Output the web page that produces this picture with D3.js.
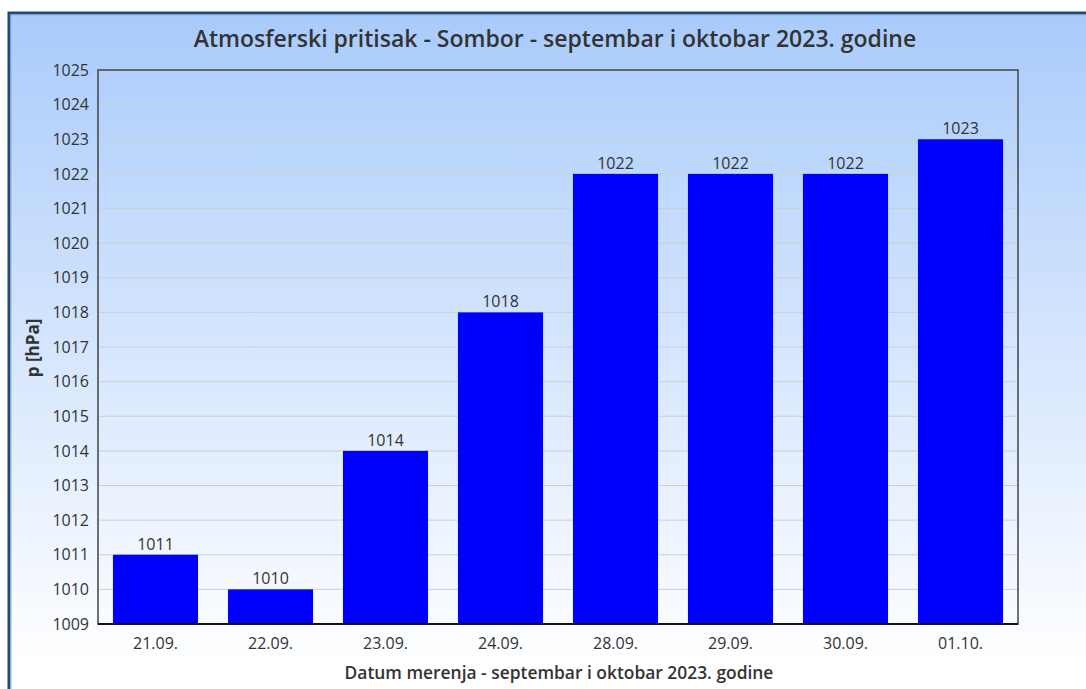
<!DOCTYPE html>
<html>
<head>
<meta charset="utf-8">
<script src="https://cdn.jsdelivr.net/npm/d3@7"></script>
<style>
  body { margin: 0; background: #fff; }
  text { font-family: "Open Sans", sans-serif; fill: #333; }
</style>
</head>
<body>
<div id="chart"></div>
<script>
var width = 1086, height = 689;

var dates = ["21.09.", "22.09.", "23.09.", "24.09.", "28.09.", "29.09.", "30.09.", "01.10."];
var pressure = [1011, 1010, 1014, 1018, 1022, 1022, 1022, 1023];
var yTicks = [1009, 1010, 1011, 1012, 1013, 1014, 1015, 1016, 1017, 1018, 1019, 1020, 1021, 1022, 1023, 1024, 1025];

var margin = {top: 70, right: 68, bottom: 65, left: 98};

var svg = d3.select("#chart")
  .append("svg")
  .attr("width", width)
  .attr("height", height);

var defs = svg.append("defs");
var grad = defs.append("linearGradient")
  .attr("id", "bg")
  .attr("x1", 0).attr("y1", 0).attr("x2", 0).attr("y2", 1);
grad.append("stop").attr("offset", "0%").attr("stop-color", "#a9cbfb");
grad.append("stop").attr("offset", "92%").attr("stop-color", "#ffffff");

// frame
svg.append("rect")
  .attr("x", 9).attr("y", 13)
  .attr("width", width + 20).attr("height", height + 20)
  .attr("fill", "url(#bg)")
  .attr("stroke", "#1f4a7c")
  .attr("stroke-width", 3);
svg.append("rect")
  .attr("x", 11).attr("y", 15)
  .attr("width", width + 20).attr("height", height + 20)
  .attr("fill", "none")
  .attr("stroke", "#9db4d2")
  .attr("stroke-width", 1);

var x = d3.scaleBand()
  .domain(dates)
  .range([margin.left, width - margin.right])
  .paddingInner(0.26)
  .paddingOuter(0.13);

var y = d3.scaleLinear()
  .domain([1009, 1025])
  .range([height - margin.bottom, margin.top]);

// grid
svg.append("g")
  .selectAll("line")
  .data(yTicks.slice(1))
  .enter().append("line")
  .attr("x1", margin.left).attr("x2", width - margin.right)
  .attr("y1", function(d) { return y(d); })
  .attr("y2", function(d) { return y(d); })
  .attr("stroke", "#cfcfcf")
  .attr("stroke-width", 1);

// bars
svg.append("g")
  .selectAll("rect")
  .data(pressure)
  .enter().append("rect")
  .attr("x", function(d, i) { return x(dates[i]); })
  .attr("y", function(d) { return y(d); })
  .attr("width", x.bandwidth())
  .attr("height", function(d) { return y(1009) - y(d); })
  .attr("fill", "#0000ff");

// value labels
svg.append("g")
  .selectAll("text")
  .data(pressure)
  .enter().append("text")
  .attr("x", function(d, i) { return x(dates[i]) + x.bandwidth() / 2; })
  .attr("y", function(d) { return y(d) - 5; })
  .attr("text-anchor", "middle")
  .style("font-size", "16px")
  .text(function(d) { return d; });

// plot border
svg.append("rect")
  .attr("x", margin.left).attr("y", margin.top)
  .attr("width", width - margin.left - margin.right)
  .attr("height", height - margin.top - margin.bottom)
  .attr("fill", "none")
  .attr("stroke", "#444")
  .attr("stroke-width", 1.5);
svg.append("line")
  .attr("x1", margin.left).attr("x2", width - margin.right)
  .attr("y1", y(1009)).attr("y2", y(1009))
  .attr("stroke", "#111").attr("stroke-width", 2);

// y axis
var yAxis = svg.append("g")
  .attr("transform", "translate(" + margin.left + ",0)")
  .call(d3.axisLeft(y).tickValues(yTicks).tickFormat(d3.format("d")).tickSize(0).tickPadding(9));
yAxis.select(".domain").remove();
yAxis.selectAll("text").style("font-size", "16px").attr("fill", "#333").style("font-family", "Open Sans");

// x axis
var xAxis = svg.append("g")
  .attr("transform", "translate(0," + (height - margin.bottom) + ")")
  .call(d3.axisBottom(x).tickSize(0).tickPadding(14));
xAxis.select(".domain").remove();
xAxis.selectAll("text").style("font-size", "16px").attr("fill", "#333").style("font-family", "Open Sans");

// titles
svg.append("text")
  .attr("x", 555).attr("y", 47)
  .attr("text-anchor", "middle")
  .style("font-size", "23px")
  .style("font-weight", "600")
  .text("Atmosferski pritisak - Sombor - septembar i oktobar 2023. godine");

svg.append("text")
  .attr("x", 559).attr("y", 679)
  .attr("text-anchor", "middle")
  .style("font-size", "17.4px")
  .style("font-weight", "600")
  .text("Datum merenja - septembar i oktobar 2023. godine");

svg.append("text")
  .attr("transform", "translate(39,348) rotate(-90)")
  .attr("text-anchor", "middle")
  .style("font-size", "17px")
  .style("font-weight", "700")
  .text("p [hPa]");
</script>
</body>
</html>
